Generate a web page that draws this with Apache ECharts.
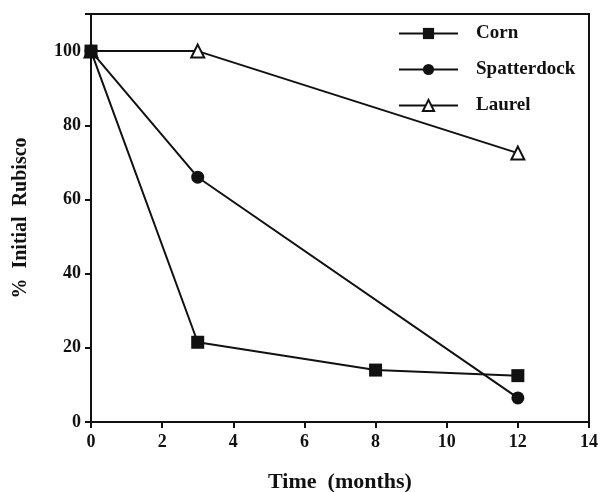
<!DOCTYPE html>
<html>
<head>
<meta charset="utf-8">
<script src="https://cdn.jsdelivr.net/npm/echarts@6/dist/echarts.min.js"></script>
<style>
  html, body { margin: 0; padding: 0; background: #fff; }
  #chart { width: 601px; height: 492px; }
</style>
</head>
<body>
<div id="chart"></div>
<script>
// values
const cornData = [[0, 100], [3, 21.5], [8, 14], [12, 12.5]];
const spatterdockData = [[0, 100], [3, 66], [12, 6.5]];
const laurelData = [[0, 100], [3, 100], [12, 72.5]];
const seriesNames = ['Corn', 'Spatterdock', 'Laurel'];

let chart = echarts.init(document.getElementById('chart'));
const font = 'Liberation Serif';
const ink = '#111';

chart.setOption({
  animation: false,
  grid: {left: 91, right: 12, top: 14, bottom: 70, outerBoundsMode: 'none',
    show: true, borderColor: ink, borderWidth: 2},
  legend: {
    data: seriesNames,
    orient: 'vertical',
    left: 398,
    top: 24,
    padding: 0,
    itemWidth: 59,
    itemHeight: 14,
    itemGap: 17,
    textStyle: {fontFamily: font, fontWeight: 'bold', fontSize: 19, color: ink,
      padding: [0, 0, 0, 13]}
  },
  xAxis: {
    type: 'value',
    min: 0, max: 14, interval: 2,
    name: 'Time  (months)',
    nameLocation: 'middle',
    nameGap: 49,
    nameTextStyle: {fontFamily: font, fontWeight: 'bold', fontSize: 22, color: ink},
    axisLine: {lineStyle: {color: ink, width: 2}},
    axisTick: {length: 6, lineStyle: {color: ink, width: 2}},
    axisLabel: {fontFamily: font, fontWeight: 'bold', fontSize: 18, color: ink, margin: 11},
    splitLine: {show: false}
  },
  yAxis: {
    type: 'value',
    min: 0, max: 110, interval: 20,
    name: '%  Initial  Rubisco',
    nameLocation: 'middle',
    nameGap: 60,
    nameTextStyle: {fontFamily: font, fontWeight: 'bold', fontSize: 20, color: ink},
    axisLine: {lineStyle: {color: ink, width: 2}},
    axisTick: {length: 6, lineStyle: {color: ink, width: 2}},
    axisLabel: {fontFamily: font, fontWeight: 'bold', fontSize: 18, color: ink, margin: 10,
      formatter: v => (v % 20 === 0 ? v : '')},
    splitLine: {show: false}
  },
  series: [
    {
      name: 'Laurel', type: 'line', data: laurelData,
      symbol: 'triangle', symbolSize: 13,
      itemStyle: {color: '#fff', borderColor: ink, borderWidth: 2},
      lineStyle: {color: ink, width: 2}
    },
    {
      name: 'Spatterdock', type: 'line', data: spatterdockData,
      symbol: 'circle', symbolSize: 13,
      itemStyle: {color: ink},
      lineStyle: {color: ink, width: 2}
    },
    {
      name: 'Corn', type: 'line', data: cornData,
      symbol: 'rect', symbolSize: 13,
      itemStyle: {color: ink},
      lineStyle: {color: ink, width: 2}
    }
  ]
});
</script>
</body>
</html>
